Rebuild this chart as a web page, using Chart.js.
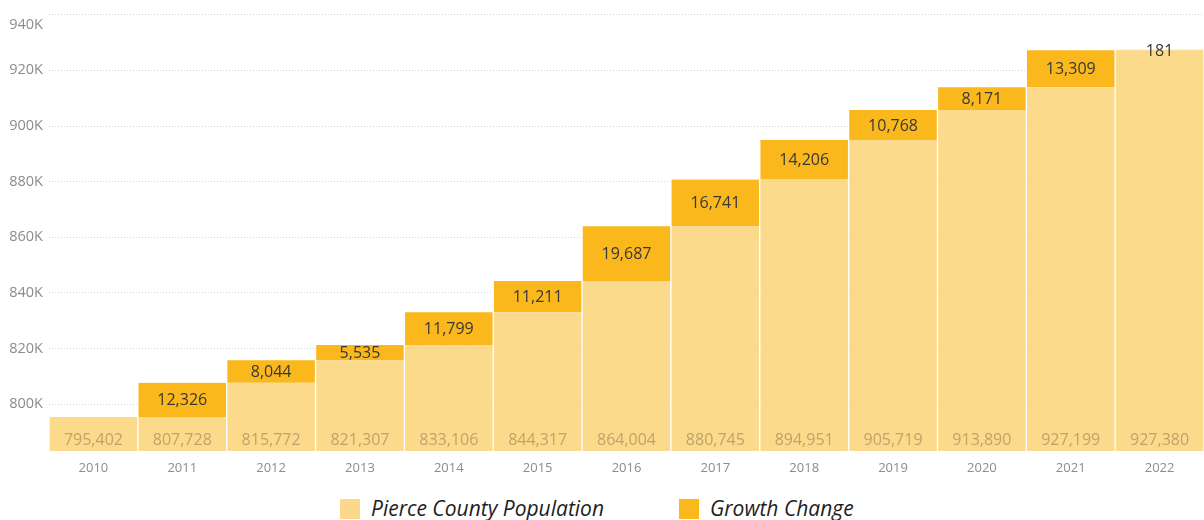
<!DOCTYPE html>
<html>
<head>
<meta charset="utf-8">
<script src="https://cdn.jsdelivr.net/npm/chart.js@4"></script>
<style>
  html, body { margin: 0; padding: 0; background: #fff; }
  #wrap { position: relative; width: 1204px; height: 482px; }
  .legend { position: absolute; top: 497px; left: 0; width: 1204px; height: 23px;
    font-family: 'Open Sans', sans-serif; font-style: italic; font-size: 21px; color: #1e1e1e; }
  .legend .item { position: absolute; top: 0; line-height: 23px; white-space: nowrap; }
  .legend .sw { position: absolute; top: 2px; width: 20px; height: 20px; }
</style>
</head>
<body>
<div id="wrap"><canvas id="chart"></canvas></div>
<div class="legend">
  <span class="sw" style="left:340px;background:#fcd98a"></span>
  <span class="item" style="left:371px">Pierce County Population</span>
  <span class="sw" style="left:679px;background:#fab81c"></span>
  <span class="item" style="left:710px">Growth Change</span>
</div>
<script>
(function () {
  'use strict';

  var years = ['2010', '2011', '2012', '2013', '2014', '2015', '2016',
    '2017', '2018', '2019', '2020', '2021', '2022'];
  var population = [795402, 807728, 815772, 821307, 833106, 844317, 864004,
    880745, 894951, 905719, 913890, 927199, 927380];
  var growth = [null, 12326, 8044, 5535, 11799, 11211, 19687,
    16741, 14206, 10768, 8171, 13309, 181];
  var yTicks = [800000, 820000, 840000, 860000, 880000, 900000, 920000, 940000];

  var lightColor = 'rgba(251, 207, 102, 0.76)';
  var growthColor = '#fab81c';
  var fontFamily = "'Open Sans', sans-serif";

  // previous year's total sits underneath each year's growth
  var base = population.map(function (p, i) {
    return p - (growth[i] || 0);
  });

  function fmt(v) {
    return v.toLocaleString('en-US');
  }

  function fmtAxis(v) {
    return Math.round(v / 1000) + 'K';
  }

  var valueLabels = {
    id: 'valueLabels',
    afterDatasetsDraw: function (chart) {
      var ctx = chart.ctx;
      var area = chart.chartArea;
      var yScale = chart.scales.y;
      var growthMeta = chart.getDatasetMeta(1);
      ctx.save();
      ctx.textAlign = 'center';
      ctx.textBaseline = 'middle';
      ctx.font = '16px ' + fontFamily;

      population.forEach(function (p, i) {
        var x = chart.scales.x.getPixelForValue(i);
        ctx.fillStyle = '#bfa36b';
        ctx.fillText(fmt(p), x, area.bottom - 11);
        var g = growth[i];
        if (g) {
          var el = growthMeta.data[i];
          ctx.fillStyle = '#383838';
          ctx.fillText(fmt(g), el.x, (el.y + el.base) / 2 + 1);
        }
      });

      // top tick label sits just under its grid line
      ctx.font = '14.5px ' + fontFamily;
      ctx.fillStyle = '#8c8c8c';
      ctx.textAlign = 'right';
      ctx.fillText(fmtAxis(yScale.max), yScale.right - 6,
        yScale.getPixelForValue(yScale.max) + 10);
      ctx.restore();
    },
  };

  new Chart(document.getElementById('chart'), {
    type: 'bar',
    data: {
      labels: years,
      datasets: [
        {
          label: 'Pierce County Population',
          data: base,
          backgroundColor: lightColor,
          borderColor: '#ffffff',
          borderWidth: { left: 1, right: 1, top: 0, bottom: 0 },
          borderSkipped: false,
          barPercentage: 1,
          categoryPercentage: 1,
        },
        {
          label: 'Growth Change',
          data: growth,
          backgroundColor: growthColor,
          borderColor: '#ffffff',
          borderWidth: { left: 1, right: 1, top: 0, bottom: 0 },
          borderSkipped: false,
          barPercentage: 1,
          categoryPercentage: 1,
        },
      ],
    },
    plugins: [valueLabels],
    options: {
      responsive: true,
      maintainAspectRatio: false,
      animation: false,
      layout: { padding: { top: 11, right: 0, bottom: 0, left: 0 } },
      scales: {
        x: {
          stacked: true,
          grid: { display: false, drawTicks: false },
          border: { display: false },
          ticks: {
            color: '#8c8c8c',
            padding: 9,
            maxRotation: 0,
            font: { family: fontFamily, size: 13 },
          },
          afterFit: function (scale) {
            scale.height = 31;
          },
        },
        y: {
          stacked: true,
          min: 783200,
          max: 940000,
          grid: {
            color: '#d6d6d6',
            lineWidth: 1,
            drawTicks: false,
          },
          border: { display: false, dash: [1, 2] },
          ticks: {
            color: '#8c8c8c',
            padding: 6,
            font: { family: fontFamily, size: 14.5 },
            callback: function (v) {
              return v === 940000 ? '' : fmtAxis(v);
            },
          },
          afterBuildTicks: function (scale) {
            scale.ticks = yTicks.map(function (v) {
              return { value: v };
            });
          },
          afterFit: function (scale) {
            scale.width = 49;
          },
        },
      },
      plugins: {
        legend: { display: false },
        tooltip: { enabled: false },
      },
    },
  });
})();
</script>
</body>
</html>
